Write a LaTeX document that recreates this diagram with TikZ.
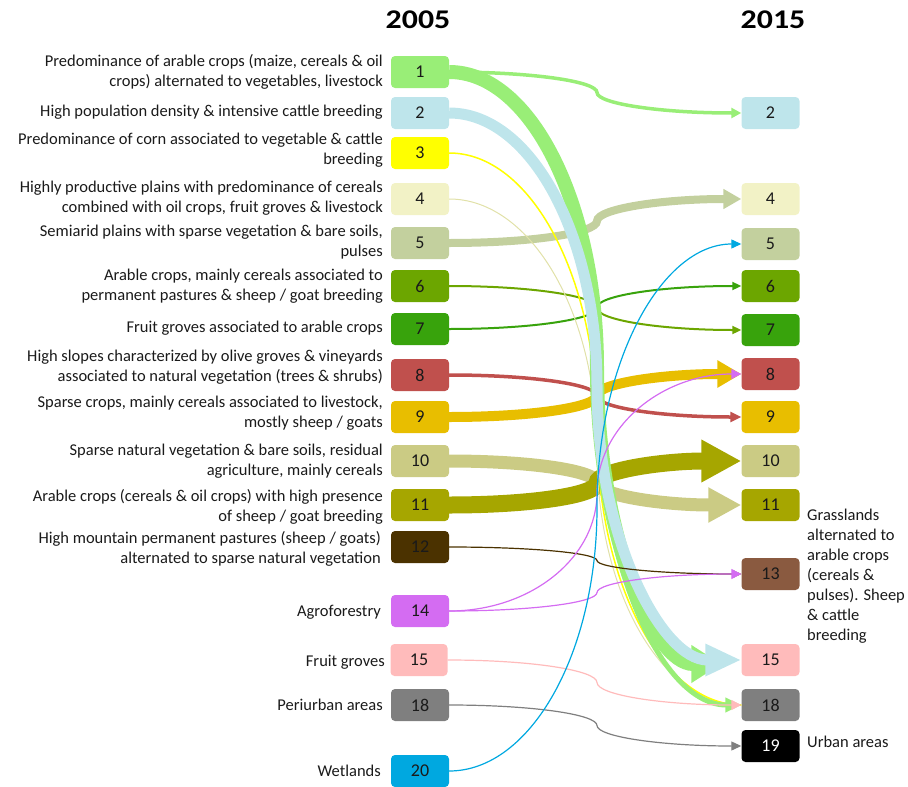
\documentclass[tikz,border=0pt]{standalone}
\usepackage{fontspec}
\setmainfont{Carlito}
\newfontfamily\yrfont[FakeStretch=1.18]{Carlito}
\usetikzlibrary{arrows.meta,calc}
\definecolor{c1}{HTML}{99EE77}
\definecolor{c2}{HTML}{BEE5EB}
\definecolor{c3}{HTML}{FFFF00}
\definecolor{c4}{HTML}{F2F2C6}
\definecolor{c5}{HTML}{C3D09E}
\definecolor{c6}{HTML}{6CA600}
\definecolor{c7}{HTML}{38A30C}
\definecolor{c8}{HTML}{C0504D}
\definecolor{c9}{HTML}{E8BE00}
\definecolor{c10}{HTML}{CBCB84}
\definecolor{c11}{HTML}{A6A600}
\definecolor{c12}{HTML}{4B3200}
\definecolor{c13}{HTML}{8A5A40}
\definecolor{c14}{HTML}{D46CF2}
\definecolor{c15}{HTML}{FFBBBB}
\definecolor{c18}{HTML}{7F7F7F}
\definecolor{c20}{HTML}{00A8E0}
\definecolor{txt}{HTML}{1A1A1A}
\newcommand\flowit[3]{%
  \draw[#3] let \p1=(#1), \p2=(#2), \n1={0.5*((\y1)+(\y2))} in
    (\p1) .. controls ({(\x1)+0.552*(597pt-(\x1))},\y1) and (597pt,{\n1+0.552*((\y1)-(\n1))}) .. (597pt,\n1)
    .. controls (597pt,{\n1+0.552*((\y2)-(\n1))}) and ({(\x2)-0.552*((\x2)-597pt)},\y2) .. (\p2);}
\begin{document}
\begin{tikzpicture}[x=1pt,y=1pt,
  box/.style={rounded corners=4pt, minimum width=58pt, minimum height=32pt, inner sep=0pt,
     font=\fontsize{18}{20}\selectfont, text=txt},
  lab/.style={anchor=east, align=right, inner sep=0pt, font=\fontsize{16.5}{20}\selectfont, text=txt},
  rlab/.style={anchor=west, align=left, inner sep=0pt, font=\fontsize{16.5}{20}\selectfont, text=txt},
  yr/.style={font=\yrfont\fontsize{27}{30}\selectfont\bfseries, inner sep=0pt},
  tip/.style 2 args={-{Triangle[length=#1pt,width=#2pt]}}]
\useasboundingbox (0,0) rectangle (908,-787);
\node[yr] (y05) at (418,-20) {2005};
\node[yr] (y15) at (773,-20) {2015};
% left boxes
\node[box,fill=c1]  (a1)  at (420,-72)  {1};
\node[box,fill=c2]  (a2)  at (420,-113) {2};
\node[box,fill=c3]  (a3)  at (420,-153) {3};
\node[box,fill=c4]  (a4)  at (420,-199) {4};
\node[box,fill=c5]  (a5)  at (420,-243) {5};
\node[box,fill=c6]  (a6)  at (420,-286) {6};
\node[box,fill=c7]  (a7)  at (420,-329) {7};
\node[box,fill=c8]  (a8)  at (420,-375) {8};
\node[box,fill=c9]  (a9)  at (420,-417) {9};
\node[box,fill=c10] (a10) at (420,-461) {10};
\node[box,fill=c11] (a11) at (420,-505) {11};
\node[box,fill=c12] (a12) at (420,-547) {12};
\node[box,fill=c14] (a14) at (420,-611) {14};
\node[box,fill=c15,minimum width=57pt] (a15) at (419,-660) {15};
\node[box,fill=c18] (a18) at (420,-705) {18};
\node[box,fill=c20] (a20) at (420,-771) {20};
% right boxes
\node[box,fill=c2]  (b2)  at (770.5,-113) {2};
\node[box,fill=c4]  (b4)  at (770.5,-199) {4};
\node[box,fill=c5]  (b5)  at (770.5,-244) {5};
\node[box,fill=c6]  (b6)  at (770.5,-286) {6};
\node[box,fill=c7]  (b7)  at (770.5,-330) {7};
\node[box,fill=c8]  (b8)  at (770.5,-374) {8};
\node[box,fill=c9]  (b9)  at (770.5,-417) {9};
\node[box,fill=c10] (b10) at (770.5,-461) {10};
\node[box,fill=c11] (b11) at (770.5,-505) {11};
\node[box,fill=c13] (b13) at (770.5,-574) {13};
\node[box,fill=c15] (b15) at (770.5,-660) {15};
\node[box,fill=c18] (b18) at (770.5,-705) {18};
\node[box,fill=black,text=white] (b19) at (770.5,-746) {19};
% left labels
\node[lab] (l1)  at (383,-72)  {Predominance of arable crops (maize, cereals \& oil\\crops) alternated to vegetables, livestock};
\node[lab] (l2)  at (383,-112) {High population density \& intensive cattle breeding};
\node[lab] (l3)  at (383,-150) {Predominance of corn associated to vegetable \& cattle\\breeding};
\node[lab] (l4)  at (383,-198.5) {Highly productive plains with predominance of cereals\\combined with oil crops, fruit groves \& livestock};
\node[lab] (l5)  at (383,-242) {Semiarid plains with sparse vegetation \& bare soils,\\pulses};
\node[lab] (l6)  at (383,-286) {Arable crops, mainly cereals associated to\\permanent pastures \& sheep / goat breeding};
\node[lab] (l7)  at (383,-328) {Fruit groves associated to arable crops};
\node[lab] (l8)  at (383,-367) {High slopes characterized by olive groves \& vineyards\\associated to natural vegetation (trees \& shrubs)};
\node[lab] (l9)  at (383,-413) {Sparse crops, mainly cereals associated to livestock,\\mostly sheep / goats};
\node[lab] (l10) at (383,-461) {Sparse natural vegetation \& bare soils, residual\\agriculture, mainly cereals};
\node[lab] (l11) at (383,-506.5) {Arable crops (cereals \& oil crops) with high presence\\of sheep / goat breeding};
\node[lab] (l12) at (381,-548.5) {High mountain permanent pastures (sheep / goats)\\alternated to sparse natural vegetation};
\node[lab] (l14) at (381,-612) {Agroforestry};
\node[lab] (l15) at (385,-662) {Fruit groves};
\node[lab] (l18) at (383,-705) {Periurban areas};
\node[lab] (l20) at (381,-771) {Wetlands};
% right labels
\node[rlab] (r13) at (807,-576) {Grasslands\\alternated to\\arable crops\\(cereals \&\\pulses). Sheep\\\& cattle\\breeding};
\node[rlab] (r19) at (807,-742) {Urban areas};
% horizontal-ish flows
\flowit{a1.east}{b2.west}{c1,line width=3.5pt,tip={10}{10}}
\flowit{a5.east}{b4.west}{c5,line width=8pt,tip={18}{19}}
\flowit{a6.east}{b7.west}{c6,line width=2pt,tip={9}{8}}
\flowit{a7.east}{b6.west}{c7,line width=2pt,tip={9}{8}}
\flowit{a8.east}{b9.west}{c8,line width=3.5pt,tip={11}{10}}
\flowit{a9.east}{b8.west}{c9,line width=10pt,tip={24}{26}}
\flowit{a10.east}{b11.west}{c10,line width=13pt,tip={33}{33}}
\flowit{a11.east}{b10.west}{c11,line width=17pt,tip={40}{40}}
% bundle
\flowit{a4.east}{b18.west}{c4!85!olive,line width=1pt}
\flowit{a3.east}{b18.west}{c3,line width=1.5pt}
\flowit{a1.east}{b18.west}{c1,line width=5pt,tip={16}{14}}
\flowit{a1.east}{[xshift=-20pt,yshift=-4pt]b15.west}{c1,line width=14pt,tip={30}{36}}
\flowit{a2.east}{b15.west}{c2,line width=11pt,tip={36}{30}}
% thin flows
\flowit{a12.east}{b13.west}{c12,line width=1.2pt,tip={9}{8}}
\flowit{a14.east}{b13.west}{c14,line width=1.2pt,tip={10}{10}}
\flowit{a14.east}{b8.west}{c14,line width=1.2pt,tip={10}{10}}
\flowit{a15.east}{b18.west}{c15,line width=1.2pt,tip={10}{10}}
\flowit{a18.east}{b19.west}{c18,line width=1.2pt,tip={10}{9}}
\flowit{a20.east}{b5.west}{c20,line width=1.2pt,tip={10}{9}}
\end{tikzpicture}
\end{document}
